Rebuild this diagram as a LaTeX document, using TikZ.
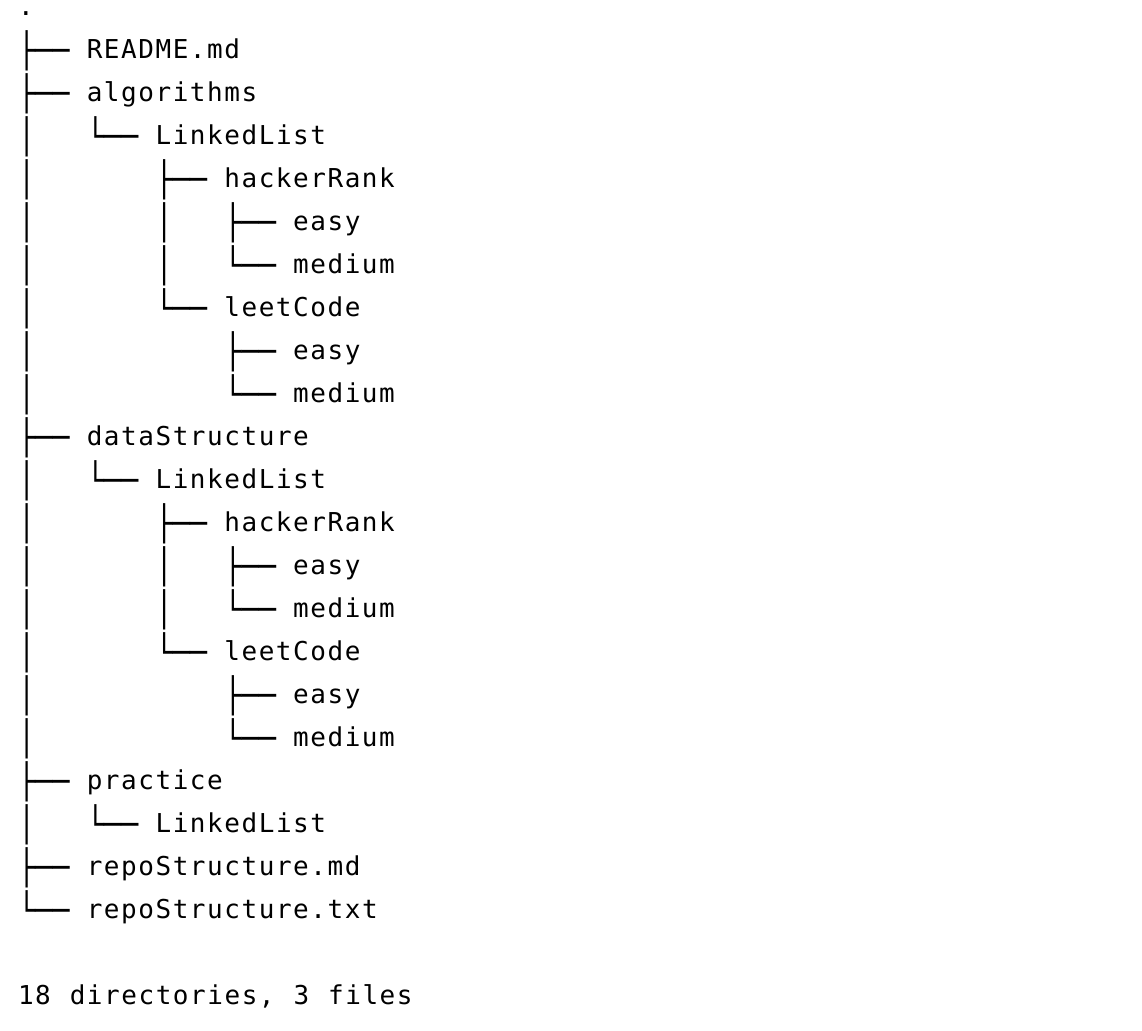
\documentclass[tikz,border=0pt]{standalone}
\usepackage{fontspec}
\newfontfamily\namefont[LetterSpace=5.96,WordSpace=1.1]{DejaVu Sans Mono}
\newfontfamily\treefont[FakeStretch=0.840]{DejaVu Sans Mono}
\newcommand\TreeGlyph[1]{\makebox[68.8pt][l]{\raisebox{-4.1pt}{\treefont\fontsize{34pt}{38pt}\selectfont #1}}}
\newcommand\TreeBr{\TreeGlyph{├──}}
\newcommand\TreeEnd{\TreeGlyph{└──}}
\newcommand\TreeBar{\TreeGlyph{│}}
\newcommand\TreeGap{\hspace*{68.8pt}}
\tikzset{
  tline/.style={anchor=base west, inner sep=0pt, outer sep=0pt, text=black,
    font=\namefont\fontsize{26pt}{30pt}\selectfont},
}
\begin{document}
\begin{tikzpicture}[x=1pt,y=1pt]
\useasboundingbox[fill=white] (0,0) rectangle (1142,-1030);
\def\xo{18}
\node[tline] (root)    at (\xo,{-15.8-43*0})  {.};
\node[tline] (readme)  at (\xo,{-15.8-43*1})  {\TreeBr README.md};
\node[tline] (alg)     at (\xo,{-15.8-43*2})  {\TreeBr algorithms};
\node[tline] (algll)   at (\xo,{-15.8-43*3})  {\TreeBar\TreeEnd LinkedList};
\node[tline] (alghr)   at (\xo,{-15.8-43*4})  {\TreeBar\TreeGap\TreeBr hackerRank};
\node[tline] (alghre)  at (\xo,{-15.8-43*5})  {\TreeBar\TreeGap\TreeBar\TreeBr easy};
\node[tline] (alghrm)  at (\xo,{-15.8-43*6})  {\TreeBar\TreeGap\TreeBar\TreeEnd medium};
\node[tline] (alglc)   at (\xo,{-15.8-43*7})  {\TreeBar\TreeGap\TreeEnd leetCode};
\node[tline] (alglce)  at (\xo,{-15.8-43*8})  {\TreeBar\TreeGap\TreeGap\TreeBr easy};
\node[tline] (alglcm)  at (\xo,{-15.8-43*9})  {\TreeBar\TreeGap\TreeGap\TreeEnd medium};
\node[tline] (ds)      at (\xo,{-15.8-43*10}) {\TreeBr dataStructure};
\node[tline] (dsll)    at (\xo,{-15.8-43*11}) {\TreeBar\TreeEnd LinkedList};
\node[tline] (dshr)    at (\xo,{-15.8-43*12}) {\TreeBar\TreeGap\TreeBr hackerRank};
\node[tline] (dshre)   at (\xo,{-15.8-43*13}) {\TreeBar\TreeGap\TreeBar\TreeBr easy};
\node[tline] (dshrm)   at (\xo,{-15.8-43*14}) {\TreeBar\TreeGap\TreeBar\TreeEnd medium};
\node[tline] (dslc)    at (\xo,{-15.8-43*15}) {\TreeBar\TreeGap\TreeEnd leetCode};
\node[tline] (dslce)   at (\xo,{-15.8-43*16}) {\TreeBar\TreeGap\TreeGap\TreeBr easy};
\node[tline] (dslcm)   at (\xo,{-15.8-43*17}) {\TreeBar\TreeGap\TreeGap\TreeEnd medium};
\node[tline] (pr)      at (\xo,{-15.8-43*18}) {\TreeBr practice};
\node[tline] (prll)    at (\xo,{-15.8-43*19}) {\TreeBar\TreeEnd LinkedList};
\node[tline] (rsmd)    at (\xo,{-15.8-43*20}) {\TreeBr repoStructure.md};
\node[tline] (rstxt)   at (\xo,{-15.8-43*21}) {\TreeEnd repoStructure.txt};
\node[tline] (summary) at (\xo,{-15.8-43*23}) {18 directories, 3 files};
\end{tikzpicture}
\end{document}
